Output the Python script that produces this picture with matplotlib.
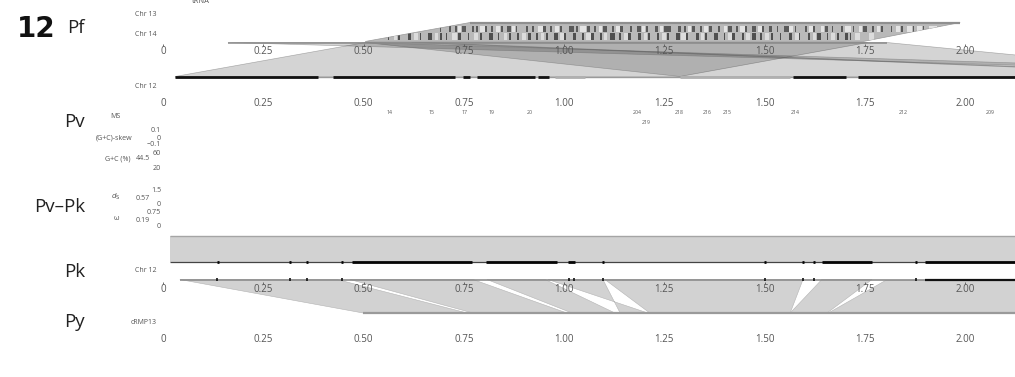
import matplotlib
matplotlib.use("Agg")
import matplotlib.pyplot as plt
from matplotlib.patches import Polygon, Rectangle

plt.rcParams['font.family'] = ['Open Sans', 'DejaVu Sans']

# ruler ticks (Mb)
tick_values = [0, 0.25, 0.5, 0.75, 1.0, 1.25, 1.5, 1.75, 2.0]
tick_labels = ['0', '0.25', '0.50', '0.75', '1.00', '1.25', '1.50', '1.75', '2.00']

# Pf: chr13 <-> chr14 block (Mb)
pf_c13_block = [0.766, 1.988]
pf_c14_block = [0.504, 1.746]
pf_c14_extent = [0.162, 1.805]

# Pf: chr14 -> chr12 synteny (chr14 start/end, chr12 start/end)
pf_c14_start = [0.504, 0.504, 0.162, 0.620]
pf_c14_end = [1.758, 1.805, 0.504, 0.660]
pf_c12_start = [0.030, 1.289, 3.100, 2.700]
pf_c12_end = [1.289, 2.680, 3.200, 2.740]

# Pf chr12 genes
pf_c12_dark_start = [0.030, 0.424, 0.748, 0.783, 0.935, 1.571, 1.733]
pf_c12_dark_end = [0.387, 0.728, 0.766, 0.928, 0.963, 1.703, 2.130]
pf_c12_light_start = [0.978, 1.289]
pf_c12_light_end = [1.052, 1.564]

# gene stripes in the chr13/chr14 block
top_dark = [0.690, 0.712, 0.728, 0.745, 0.770, 0.781, 0.800, 0.818, 0.842, 0.858,
            0.880, 0.905, 0.921, 0.948, 0.966, 0.990, 1.012, 1.030, 1.058, 1.075,
            1.098, 1.120, 1.140, 1.165, 1.182, 1.205, 1.228, 1.250, 1.262, 1.285,
            1.300, 1.318, 1.340, 1.362, 1.385, 1.410, 1.428, 1.452, 1.470, 1.495,
            1.512, 1.530, 1.548, 1.575, 1.600, 1.622, 1.650, 1.668, 1.690, 1.720,
            1.745, 1.768, 1.790, 1.815, 1.840, 1.870, 1.895]
top_dark_w = [0.004, 0.006, 0.004, 0.010, 0.006, 0.004, 0.008, 0.004, 0.006, 0.010,
              0.004, 0.006, 0.004, 0.008, 0.004, 0.006, 0.012, 0.004, 0.006, 0.004,
              0.008, 0.004, 0.006, 0.004, 0.010, 0.004, 0.006, 0.014, 0.004, 0.006,
              0.004, 0.008, 0.004, 0.006, 0.004, 0.010, 0.006, 0.004, 0.008, 0.004,
              0.006, 0.004, 0.012, 0.004, 0.006, 0.004, 0.008, 0.004, 0.006, 0.004,
              0.010, 0.004, 0.006, 0.004, 0.006, 0.004, 0.004]
top_light = [0.735, 0.790, 0.830, 0.870, 0.935, 0.978, 1.040, 1.088, 1.130, 1.195,
             1.240, 1.310, 1.350, 1.398, 1.440, 1.485, 1.560, 1.610, 1.640, 1.700,
             1.735, 1.780, 1.828, 1.855, 1.880, 1.910, 1.940]
top_light_w = [0.008, 0.012, 0.010, 0.008, 0.012, 0.010, 0.014, 0.008, 0.010, 0.008,
               0.008, 0.006, 0.010, 0.008, 0.012, 0.008, 0.012, 0.010, 0.008, 0.016,
               0.008, 0.008, 0.010, 0.014, 0.012, 0.020, 0.030]
bot_dark = [0.560, 0.585, 0.610, 0.640, 0.662, 0.690, 0.705, 0.735, 0.760, 0.790,
            0.812, 0.835, 0.862, 0.884, 0.910, 0.930, 0.955, 0.975, 1.000, 1.022,
            1.045, 1.068, 1.090, 1.115, 1.138, 1.160, 1.185, 1.210, 1.232, 1.258,
            1.280, 1.305, 1.330, 1.352, 1.375, 1.398, 1.420, 1.445, 1.468, 1.490,
            1.515, 1.538, 1.560, 1.585, 1.608, 1.630, 1.655, 1.680, 1.700, 1.712]
bot_dark_w = [0.004, 0.006, 0.008, 0.004, 0.010, 0.006, 0.004, 0.008, 0.004, 0.006,
              0.012, 0.004, 0.006, 0.004, 0.008, 0.004, 0.006, 0.010, 0.004, 0.008,
              0.004, 0.006, 0.004, 0.012, 0.004, 0.006, 0.008, 0.004, 0.006, 0.004,
              0.010, 0.004, 0.006, 0.004, 0.008, 0.004, 0.006, 0.004, 0.010, 0.004,
              0.006, 0.004, 0.008, 0.004, 0.006, 0.010, 0.004, 0.006, 0.008, 0.004]
bot_light = [0.575, 0.625, 0.678, 0.720, 0.775, 0.850, 0.895, 0.942, 0.990, 1.055,
             1.100, 1.150, 1.200, 1.245, 1.292, 1.342, 1.410, 1.455, 1.500, 1.575,
             1.620, 1.665, 1.725, 1.760]
bot_light_w = [0.008, 0.010, 0.008, 0.012, 0.010, 0.008, 0.010, 0.008, 0.010, 0.012,
               0.008, 0.010, 0.008, 0.010, 0.012, 0.008, 0.010, 0.008, 0.012, 0.010,
               0.008, 0.010, 0.014, 0.012]

# Pv microsatellite markers
ms_names = ['14', '15', '17', '19', '20', '204', '218', '216', '215', '214', '212', '209', '219']
ms_pos = [0.564, 0.671, 0.753, 0.820, 0.915, 1.182, 1.287, 1.357, 1.406, 1.576, 1.845, 2.062, 1.204]
ms_row = [0, 0, 0, 0, 0, 0, 0, 0, 0, 0, 0, 0, 1]

# Pv-Pk block
pv_pk_block = [0.017, 2.300]

# Pk chr12 genes
pk_dark_start = [0.135, 0.315, 0.357, 0.444, 0.471, 0.805, 1.010, 1.095, 1.499, 1.594,
                 1.621, 1.643, 1.876, 1.900]
pk_dark_end = [0.140, 0.320, 0.362, 0.449, 0.771, 0.983, 1.027, 1.100, 1.504, 1.599,
               1.626, 1.768, 1.881, 2.200]
pk_mark = [0.135, 0.317, 0.359, 0.446, 1.012, 1.025, 1.097, 1.501, 1.596, 1.623, 1.878]

# Pk -> Py synteny (Pk start/end, Py start/end)
pk_py_pk_start = [0.042, 0.466, 0.808, 0.960, 1.102, 1.643, 1.800]
pk_py_pk_end = [0.434, 0.773, 0.953, 1.097, 1.596, 1.768, 2.337]
pk_py_py_start = [0.499, 0.773, 1.020, 1.209, 1.214, 1.564, 1.656]
pk_py_py_end = [0.758, 1.007, 1.127, 1.140, 1.564, 1.656, 2.337]

# row heights (pixel rows of the panel)
Y_C13, Y_C14, Y_PF12 = 22.5, 42.5, 76.5
Y_PV, Y_PK_A, Y_PK_B, Y_PY = 236, 262, 279.5, 313
TXT = '#555555'

fig = plt.figure(figsize=(10.15, 3.77), dpi=100)
ax = fig.add_axes([0, 0, 1, 1])
ax.set_xlim(-163 / 401, 852 / 401)
ax.set_ylim(377, 0)
ax.axis('off')


def ribbon(y0, y1, a0, a1, b0, b1, **kw):
    p = Polygon([(a0, y0), (a1, y0), (b1, y1), (b0, y1)], closed=True, **kw)
    ax.add_patch(p)
    return p


def segs(y, starts, ends, **kw):
    ax.hlines([y] * len(starts), starts, ends, **kw)


def ruler(y, marks=False):
    for v, lab in zip(tick_values, tick_labels):
        ax.text(v, y, lab, ha='center', va='center', fontsize=7, color=TXT, zorder=6)
    if marks:
        ax.vlines(tick_values, y - 7.5, y - 5.5, color=TXT, lw=0.6, zorder=6)


# ---- Pf ----
for a0, a1, b0, b1 in zip(pf_c14_start, pf_c14_end, pf_c12_start, pf_c12_end):
    ribbon(Y_C14, Y_PF12, a0, a1, b0, b1, fc=(0, 0, 0, 0.17),
           ec=(0.4, 0.4, 0.4, 0.5), lw=0.45, zorder=2)

band = ribbon(Y_C13, Y_C14 - 1, pf_c13_block[0], pf_c13_block[1],
              pf_c14_block[0], pf_c14_block[1], fc='#b9b9b9', ec='#9a9a9a', lw=0.5, zorder=3)
rows = [(top_dark, top_dark_w, 25.5, 6.5, '#5a5a5a'),
        (top_light, top_light_w, 25.5, 6.5, '#e4e4e4'),
        (bot_dark, bot_dark_w, 33.0, 7.0, '#4f4f4f'),
        (bot_light, bot_light_w, 33.0, 7.0, '#dcdcdc')]
for xs, ws, y, h, col in rows:
    for x, w in zip(xs, ws):
        r = Rectangle((x, y), w, h, fc=col, ec='none', zorder=4)
        ax.add_patch(r)
        r.set_clip_path(band)
segs(Y_C13 + 0.8, [pf_c13_block[0]], [pf_c13_block[1]], color='#8f8f8f', lw=1.6, zorder=5)
segs(Y_C14, [pf_c14_extent[0]], [pf_c14_extent[1]], color='#8a8a8a', lw=1.1, zorder=5)

segs(Y_PF12, [pf_c12_dark_start[0]], [2.2], color='#9a9a9a', lw=1.0, zorder=5)
segs(Y_PF12, pf_c12_light_start, pf_c12_light_end, color='#b0b0b0', lw=2.0, zorder=5)
segs(Y_PF12, pf_c12_dark_start, pf_c12_dark_end, color='#111111', lw=2.0, zorder=5)

ruler(51, marks=True)
ruler(103)

ax.text(0.095, 1.5, 'tRNA', ha='center', va='center', fontsize=5.5, color=TXT)
ax.text(-0.015, 14, 'Chr 13', ha='right', va='center', fontsize=5, color=TXT)
ax.text(-0.015, 34, 'Chr 14', ha='right', va='center', fontsize=5, color=TXT)
ax.text(-0.015, 87, 'Chr 12', ha='right', va='center', fontsize=5, color=TXT)

# ---- Pv ----
for name, x, row in zip(ms_names, ms_pos, ms_row):
    ax.text(x, 112.5 + 9.5 * row, name, ha='center', va='center', fontsize=3.8, color=TXT)

small = dict(va='center', fontsize=5.1, color=TXT)
ax.text(-0.118, 116, 'MS', ha='center', **small)
ax.text(-0.122, 138, '(G+C)-skew', ha='center', **small)
ax.text(-0.005, 131, '0.1', ha='right', **small)
ax.text(-0.005, 138, '0', ha='right', **small)
ax.text(-0.005, 144.5, '\u22120.1', ha='right', **small)
ax.text(-0.113, 159, 'G+C (%)', ha='center', **small)
ax.text(-0.050, 159, '44.5', ha='center', **small)
ax.text(-0.005, 153.5, '60', ha='right', **small)
ax.text(-0.005, 168, '20', ha='right', **small)
ax.text(-0.117, 197, '$d_\\mathrm{S}$', ha='center', **small)
ax.text(-0.050, 198, '0.57', ha='center', **small)
ax.text(-0.005, 190, '1.5', ha='right', **small)
ax.text(-0.005, 205, '0', ha='right', **small)
ax.text(-0.117, 218, '\u03c9', ha='center', **small)
ax.text(-0.050, 220, '0.19', ha='center', **small)
ax.text(-0.005, 212, '0.75', ha='right', **small)
ax.text(-0.005, 227, '0', ha='right', **small)

# ---- Pv-Pk / Pk ----
ribbon(Y_PV, Y_PK_A, pv_pk_block[0], pv_pk_block[1], pv_pk_block[0], pv_pk_block[1],
       fc='#d2d2d2', ec='none', zorder=2)
segs(Y_PV, [pv_pk_block[0]], [pv_pk_block[1]], color='#a5a5a5', lw=1.0, zorder=3)
segs(Y_PK_A, [pv_pk_block[0]], [pv_pk_block[1]], color='#444444', lw=0.9, zorder=3)
segs(Y_PK_A, pk_dark_start, pk_dark_end, color='#050505', lw=2.0, zorder=4)

for a0, a1, b0, b1 in zip(pk_py_pk_start, pk_py_pk_end, pk_py_py_start, pk_py_py_end):
    ribbon(Y_PK_B, Y_PY, a0, a1, b0, b1, fc='#d2d2d2', ec='#b4b4b4', lw=0.4, zorder=2)
segs(Y_PK_B, [pk_py_pk_start[0]], [2.2], color='#8c8c8c', lw=1.2, zorder=3)
ax.vlines(pk_mark, Y_PK_B - 1.2, Y_PK_B + 1.2, color='#111111', lw=1.2, zorder=4)
segs(Y_PK_B, [pk_dark_start[-1]], [pk_dark_end[-1]], color='#111111', lw=1.6, zorder=4)
segs(Y_PY, [pk_py_py_start[0]], [2.2], color='#9a9a9a', lw=1.6, zorder=3)

ruler(289, marks=True)
ruler(340)
ax.text(-0.015, 271, 'Chr 12', ha='right', va='center', fontsize=5, color=TXT)
ax.text(-0.015, 323, 'cRMP13', ha='right', va='center', fontsize=5, color=TXT)

# ---- species labels ----
ax.text(-0.315, 29, '12', ha='center', va='center', fontsize=20, fontweight='bold',
        family='DejaVu Sans', color='#111111')
for lab, y in [('Pf', 28), ('Pv', 122), ('Pv\u2013Pk', 207), ('Pk', 272), ('Py', 322)]:
    ax.text(-0.1945, y, lab, ha='right', va='center', fontsize=13.5, color='#222222')

fig.savefig('out.png', dpi=100)
